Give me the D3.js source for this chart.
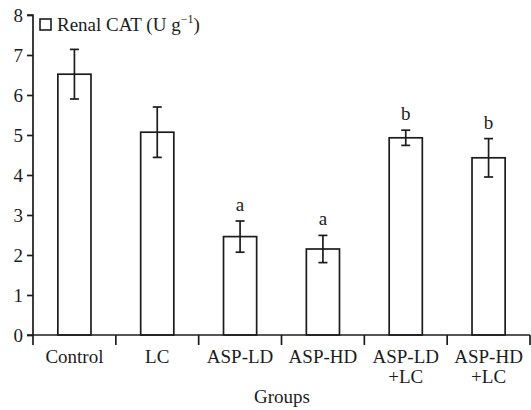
<!DOCTYPE html>
<meta charset="utf-8">
<script src="https://d3js.org/d3.v7.min.js"></script>
<style>
  body { margin: 0; background: #fff; }
</style>
<div id="chart"></div>
<script>
// data
var groups = ["Control", "LC", "ASP-LD", "ASP-HD", "ASP-LD\n+LC", "ASP-HD\n+LC"]
var means = [6.52, 5.07, 2.46, 2.15, 4.93, 4.43]
var errors = [0.62, 0.63, 0.39, 0.34, 0.19, 0.48]
var letters = ["", "", "a", "a", "b", "b"]
var yTicks = [0, 1, 2, 3, 4, 5, 6, 7, 8]

var width = 531, height = 410
var padL = 33, padR = 530, padT = 15, padB = 335
var ink = "#1c1c1c"
var serif = "'Liberation Serif', 'Times New Roman', Times, 'DejaVu Serif', serif"

var svg = d3.select("#chart").append("svg").attr("width", width).attr("height", height)

var x = d3.scaleBand().domain(groups).range([padL, padR]).paddingInner(0.6).paddingOuter(0.3)
var y = d3.scaleLinear().domain([0, 8]).range([padB, padT])

// bars
svg.selectAll(".bar")
  .data(groups)
  .join("rect")
  .attr("x", d => x(d))
  .attr("y", (d, i) => y(means[i]))
  .attr("width", x.bandwidth())
  .attr("height", (d, i) => y(0) - y(means[i]))
  .attr("fill", "#fff")
  .attr("stroke", ink)
  .attr("stroke-width", 1.7)

// error bars
var cap = 4.5
groups.forEach(function (g, i) {
  var cx = x(g) + x.bandwidth() / 2
  var hi = y(means[i] + errors[i]), lo = y(means[i] - errors[i])
  var e = svg.append("g").attr("stroke", ink).attr("stroke-width", 1.7)
  e.append("line").attr("x1", cx).attr("x2", cx).attr("y1", hi).attr("y2", lo)
  e.append("line").attr("x1", cx - cap).attr("x2", cx + cap).attr("y1", hi).attr("y2", hi)
  e.append("line").attr("x1", cx - cap).attr("x2", cx + cap).attr("y1", lo).attr("y2", lo)
  if (letters[i]) {
    svg.append("text").text(letters[i])
      .attr("x", cx).attr("y", hi - 10)
      .attr("text-anchor", "middle").style("font-size", "19px")
  }
})

// y axis
var yAxis = svg.append("g").attr("transform", "translate(" + padL + ",0)")
  .call(d3.axisLeft(y).tickValues(yTicks).tickSize(6).tickPadding(4))
yAxis.selectAll("path, line").attr("stroke", ink).attr("stroke-width", 1.7)
yAxis.selectAll("text").style("font-size", "19px")
yAxis.select(".domain").attr("d", "M-6," + padT + "H0V" + padB + "H-6")

// x axis: ticks at band edges
var edges = groups.map(g => x(g) - x.step() * x.paddingInner() / 2).concat([padR])
svg.append("line").attr("x1", padL).attr("x2", padR).attr("y1", padB).attr("y2", padB)
  .attr("stroke", ink).attr("stroke-width", 1.7)
svg.selectAll(".xtick")
  .data(edges)
  .join("line")
  .attr("x1", d => d).attr("x2", d => d)
  .attr("y1", padB).attr("y2", padB + 10)
  .attr("stroke", ink).attr("stroke-width", 1.7)

groups.forEach(function (g) {
  var cx = x(g) + x.bandwidth() / 2
  var t = svg.append("text").attr("x", cx).attr("y", padB + 28)
    .attr("text-anchor", "middle").style("font-size", "19px")
  g.split("\n").forEach(function (line, j) {
    t.append("tspan").attr("x", cx).attr("dy", j ? 20 : 0).text(line)
  })
})

svg.append("text").text("Groups")
  .attr("x", 282).attr("y", 403)
  .attr("text-anchor", "middle").style("font-size", "19px")

// legend
svg.append("rect").attr("x", 40).attr("y", 19).attr("width", 11).attr("height", 11)
  .attr("fill", "#fff").attr("stroke", ink).attr("stroke-width", 1.6)
var lg = svg.append("text").attr("x", 57).attr("y", 31).style("font-size", "19px")
lg.append("tspan").text("Renal CAT (U g")
lg.append("tspan").text("\u22121").attr("dy", -8).style("font-size", "12px")
lg.append("tspan").text(")").attr("dy", 8)

svg.selectAll("text").style("font-family", serif).attr("fill", ink)
</script>
